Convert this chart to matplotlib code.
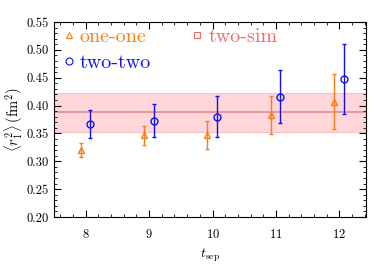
import matplotlib
matplotlib.use("Agg")
import matplotlib.pyplot as plt
from matplotlib.ticker import MultipleLocator
from matplotlib.lines import Line2D

plt.rcParams['font.family'] = 'serif'
plt.rcParams['font.serif'] = ['cmr10']
plt.rcParams['mathtext.fontset'] = 'cm'
plt.rcParams['axes.formatter.use_mathtext'] = True

tsep = [8, 9, 10, 11, 12]
one_one = [0.320, 0.347, 0.347, 0.383, 0.407]
one_one_err = [0.012, 0.017, 0.025, 0.034, 0.049]
two_two = [0.367, 0.373, 0.380, 0.416, 0.447]
two_two_err = [0.025, 0.030, 0.037, 0.048, 0.063]
two_sim = 0.388
two_sim_err = 0.035

c_one = '#fb7d16'
c_two = '#1010f0'
c_sim = '#f26a6a'

fig = plt.figure(figsize=(3.74, 2.67), dpi=100)
ax = fig.add_axes([54/374, 1-217/267, (366-54)/374, (217-22)/267])

ax.axhspan(two_sim - two_sim_err, two_sim + two_sim_err, color='#ffd6d9', zorder=0, lw=0)
ax.axhline(two_sim + two_sim_err, color='#f7c2c4', lw=0.8, zorder=0)
ax.axhline(two_sim - two_sim_err, color='#f7c2c4', lw=0.8, zorder=0)
ax.axhline(two_sim, color='#e08c90', lw=1.2, zorder=1)

ax.errorbar([t - 0.08 for t in tsep], one_one, yerr=one_one_err, fmt='^', color=c_one,
            mfc='none', ms=5, mew=1.0, elinewidth=1.0, capsize=1.5, capthick=1.0, zorder=3)
ax.errorbar([t + 0.07 for t in tsep], two_two, yerr=two_two_err, fmt='o', color=c_two,
            mfc='none', ms=5, mew=1.0, elinewidth=1.0, capsize=1.5, capthick=1.0, zorder=3)

ax.set_xlim(7.5, 12.42)
ax.set_ylim(0.20, 0.55)
ax.xaxis.set_major_locator(MultipleLocator(1))
ax.xaxis.set_minor_locator(MultipleLocator(0.2))
ax.yaxis.set_major_locator(MultipleLocator(0.05))
ax.yaxis.set_minor_locator(MultipleLocator(0.01))
ax.yaxis.set_major_formatter(matplotlib.ticker.FormatStrFormatter('%.2f'))
ax.tick_params(which='both', direction='in', top=True, right=True, labelsize=9)
ax.tick_params(which='major', length=5, width=0.8)
ax.tick_params(which='minor', length=2.5, width=0.6)
ax.tick_params(axis='x', pad=8)

ax.set_xlabel(r'$t_{\rm sep}$', fontsize=10)
ax.set_ylabel(r'$\langle r_1^2\rangle\,(\mathrm{fm}^2)$', fontsize=10.5, labelpad=1)

handles = [
    Line2D([], [], ls='none', marker='^', mfc='none', mec=c_one, ms=5, mew=0.8),
    Line2D([], [], ls='none', marker='o', mfc='none', mec=c_two, ms=5, mew=0.8),
    Line2D([], [], ls='none', marker='s', mfc='none', mec=c_sim, ms=4, mew=0.8),
]
labels = ['one-one', 'two-two', 'two-sim']
leg = ax.legend(handles, labels, ncol=2, loc='upper left', frameon=False, fontsize=14.5,
                handlelength=0.4, handletextpad=0.35, columnspacing=2.1, labelspacing=0.4,
                borderaxespad=0.0, borderpad=0.3, bbox_to_anchor=(0.015, 1.0))
for txt, col in zip(leg.get_texts(), [c_one, c_two, c_sim]):
    txt.set_color(col)

fig.savefig('out.png', dpi=100)
